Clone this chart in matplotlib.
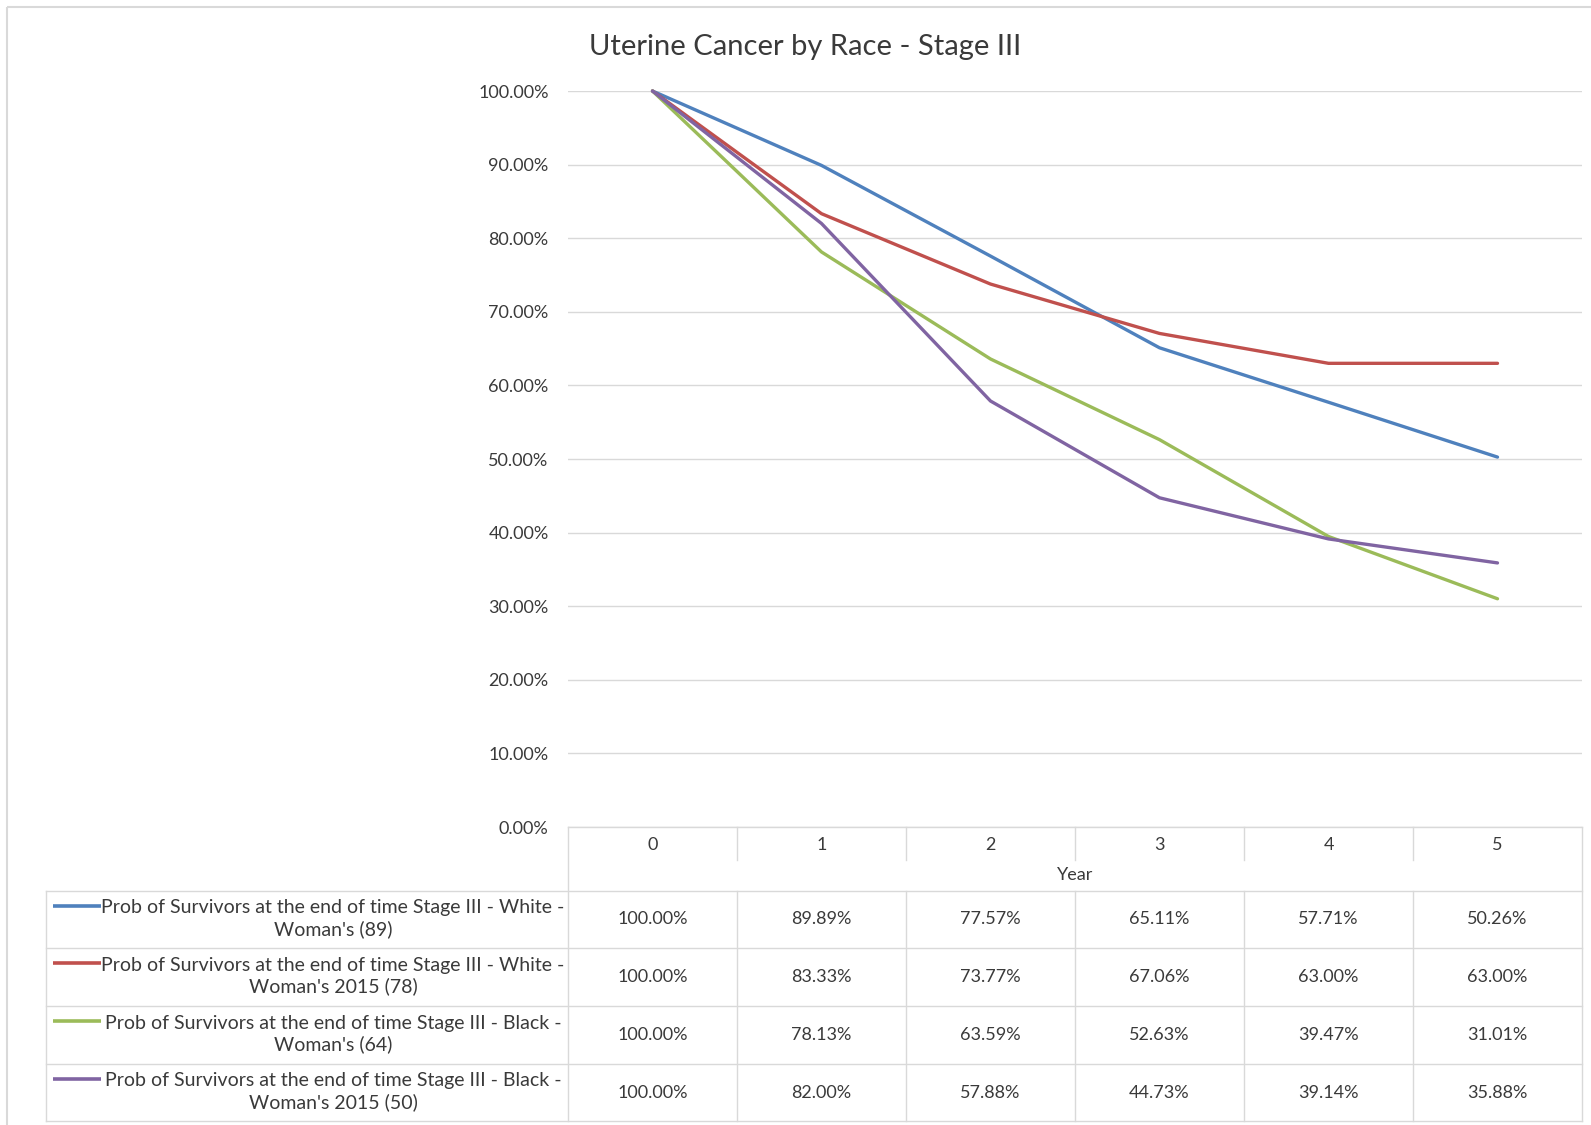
import matplotlib
matplotlib.use('Agg')
import matplotlib.pyplot as plt
from matplotlib import transforms
from matplotlib.patches import Rectangle

plt.rcParams['font.family'] = ['Lato', 'DejaVu Sans']

years = [0, 1, 2, 3, 4, 5]
series_labels = [
    "Prob of Survivors at the end of time Stage III - White -\nWoman's (89)",
    "Prob of Survivors at the end of time Stage III - White -\nWoman's 2015 (78)",
    "Prob of Survivors at the end of time Stage III - Black -\nWoman's (64)",
    "Prob of Survivors at the end of time Stage III - Black -\nWoman's 2015 (50)",
]
white_89 = [100.00, 89.89, 77.57, 65.11, 57.71, 50.26]
white_2015 = [100.00, 83.33, 73.77, 67.06, 63.00, 63.00]
black_64 = [100.00, 78.13, 63.59, 52.63, 39.47, 31.01]
black_2015 = [100.00, 82.00, 57.88, 44.73, 39.14, 35.88]
series_values = [white_89, white_2015, black_64, black_2015]
colors = ['#4F81BD', '#C0504D', '#9BBB59', '#8064A2']

W, H = 1591, 1125
TXT = '#3a3a3a'
GRID = '#d9d9d9'

fig = plt.figure(figsize=(W / 100, H / 100), dpi=100)


def box(l, t, r, b):
    return [l / W, 1 - b / H, (r - l) / W, (b - t) / H]


# pixel-space layer for the frame and the data table
over = fig.add_axes([0, 0, 1, 1], zorder=0)
over.set_xlim(0, W)
over.set_ylim(H, 0)
over.axis('off')

over.add_patch(Rectangle((7, 7), W + 20, H + 20, fill=False,
                         edgecolor=GRID, lw=1.5))

ax = fig.add_axes(box(568, 91, 1582, 827), zorder=1)
ax.set_facecolor('none')
ax.set_xlim(-0.5, 5.5)
ax.set_ylim(0, 100)
ax.set_yticks(range(0, 101, 10))
ax.set_yticklabels([f'{v:.2f}%' for v in range(0, 101, 10)])
ax.set_xticks([])
ax.tick_params(axis='y', length=0, pad=14, labelsize=13, labelcolor=TXT)
for s in ax.spines.values():
    s.set_visible(False)
ax.grid(axis='y', color=GRID, lw=1)
ax.set_axisbelow(True)

for vals, c in zip(series_values, colors):
    ax.plot(years, vals, color=c, lw=2.4, clip_on=False,
            solid_joinstyle='round', solid_capstyle='round')

fig.text(805 / W, 1 - 47 / H, 'Uterine Cancer by Race - Stage III',
         ha='center', va='center', fontsize=21, color=TXT)

# table: x follows the category axis, y in pixels
tr = transforms.blended_transform_factory(ax.transData, over.transData)
header_top = 827
row_edges = [891, 948, 1006, 1064, 1121]
table_left = 46

over.plot([-0.5, 5.5], [header_top, header_top], color=GRID, lw=1, transform=tr)
for x in [-0.5, 5.5]:
    over.plot([x, x], [header_top, row_edges[-1]], color=GRID, lw=1, transform=tr)
for i in range(1, 6):
    xb = i - 0.5
    over.plot([xb, xb], [header_top, 860], color=GRID, lw=1, transform=tr)
    over.plot([xb, xb], [row_edges[0], row_edges[-1]], color=GRID, lw=1, transform=tr)

x_right = ax.transData.transform((5.5, 0))[0]
for y in row_edges:
    over.plot([table_left, x_right], [y, y], color=GRID, lw=1)
over.plot([table_left, table_left], [row_edges[0], row_edges[-1]], color=GRID, lw=1)

for yr in years:
    over.text(yr, 845, str(yr), transform=tr, ha='center', va='center',
              fontsize=13, color=TXT)
over.text(2.5, 875, 'Year', transform=tr, ha='center', va='center',
          fontsize=13, color=TXT)

for k, (label, vals, c) in enumerate(zip(series_labels, series_values, colors)):
    top, bot = row_edges[k], row_edges[k + 1]
    yc = (top + bot) / 2
    over.text(333, yc - 1, label, ha='center', va='center',
              multialignment='center', linespacing=1.25, fontsize=14, color=TXT)
    over.plot([53, 101], [yc - 14, yc - 14], color=c, lw=2.6, solid_capstyle='butt')
    for yr, v in zip(years, vals):
        over.text(yr, yc, f'{v:.2f}%', transform=tr, ha='center', va='center',
                  fontsize=13, color=TXT)

fig.savefig('out.png', dpi=100)
